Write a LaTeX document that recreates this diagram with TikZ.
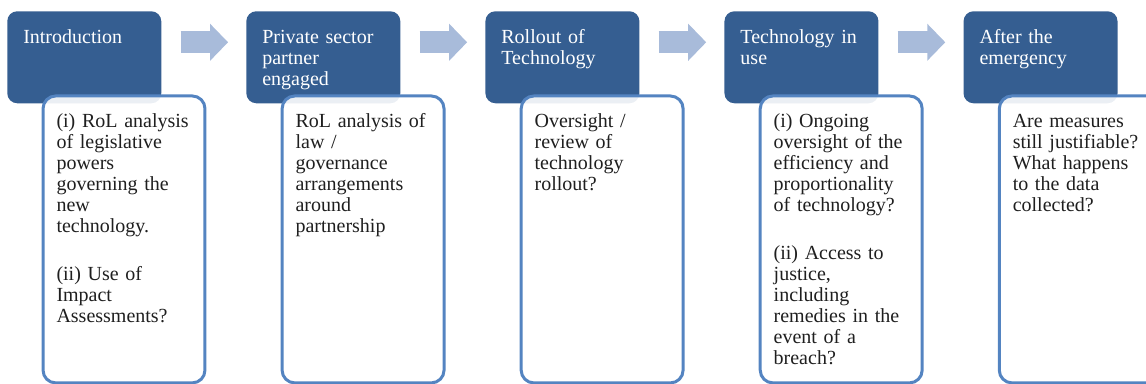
\documentclass[tikz,border=0pt]{standalone}
\usepackage{fontspec}
\setmainfont{Liberation Serif}
\usetikzlibrary{positioning, arrows.meta}
\definecolor{stageblue}{RGB}{53,94,145}
\definecolor{noteline}{RGB}{84,132,193}
\definecolor{flowblue}{RGB}{168,187,218}
\newcommand{\boxfont}{\fontsize{15}{15.75}\selectfont}
\tikzstyle{stage} = [rectangle, rounded corners=7.5pt, fill=stageblue, text=white, text width=91.5pt, inner xsep=12pt, inner ysep=0pt, text height=24pt, text depth=45pt, align=left, font=\boxfont]
\tikzstyle{note} = [rectangle, rounded corners=9.5pt, draw=noteline, line width=2.25pt, fill=white, fill opacity=0.9, text opacity=1, text=black!88, text width=101.25pt, inner xsep=10.1pt, inner ysep=0pt, text height=23.6pt, text depth=191.6pt, align=left, font=\boxfont]
\tikzstyle{arrow} = [line width=16.5pt, flowblue, -{Triangle[length=13.5pt, width=27pt]}, shorten <=14.25pt, shorten >=13.5pt]

\begin{document}
\begin{tikzpicture}[node distance=63.4pt, x=0.75pt, y=-0.75pt]
	\useasboundingbox (0,0) rectangle (1146,383);
	\node(intro)[stage, anchor=north west] at (7,11) {Introduction};
	\node(intronote)[note, below right=62.6pt and 25.9pt of intro.north west] {(i) RoL analysis\\ of legislative\\ powers\\ governing the\\ new\\ technology.\\[20.25pt] (ii) Use of\\ Impact\\ Assessments?};
	\node(partner)[stage, right=of intro] {Private sector\\ partner\\ engaged};
	\node(partnernote)[note, below right=62.6pt and 25.9pt of partner.north west] {RoL analysis of\\ law /\\ governance\\ arrangements\\ around\\ partnership};
	\node(rollout)[stage, right=of partner] {Rollout of\\ Technology};
	\node(rolloutnote)[note, below right=62.6pt and 25.9pt of rollout.north west] {Oversight /\\ review of\\ technology\\ rollout?};
	\node(inuse)[stage, right=of rollout] {Technology in\\ use};
	\node(inusenote)[note, below right=62.6pt and 25.9pt of inuse.north west] {(i) Ongoing\\ oversight of the\\ efficiency and\\ proportionality\\ of technology?\\[20.25pt] (ii) Access to\\ justice,\\ including\\ remedies in the\\ event of a\\ breach?};
	\node(after)[stage, right=of inuse] {After the\\ emergency};
	\node(afternote)[note, below right=62.6pt and 25.9pt of after.north west] {Are measures\\ still justifiable?\\ What happens\\ to the data\\ collected?};

	\draw [arrow] ([yshift=11.25pt]intro.east) -- ([yshift=11.25pt]partner.west);
	\draw [arrow] ([yshift=11.25pt]partner.east) -- ([yshift=11.25pt]rollout.west);
	\draw [arrow] ([yshift=11.25pt]rollout.east) -- ([yshift=11.25pt]inuse.west);
	\draw [arrow] ([yshift=11.25pt]inuse.east) -- ([yshift=11.25pt]after.west);
\end{tikzpicture}
\end{document}
